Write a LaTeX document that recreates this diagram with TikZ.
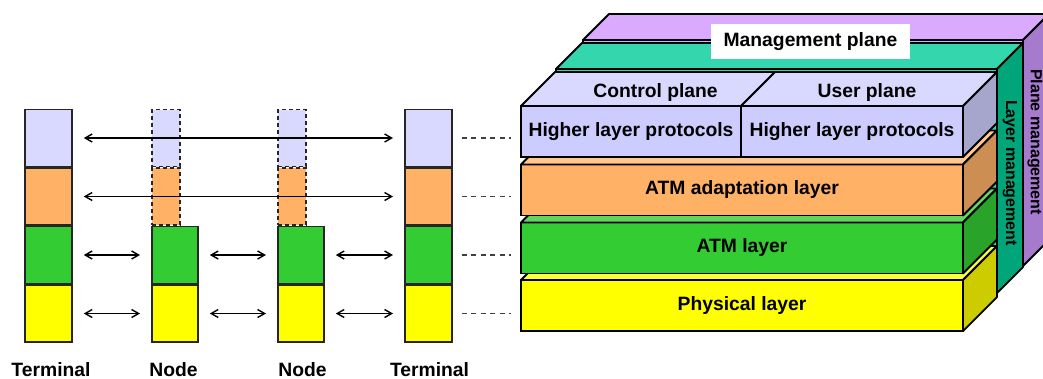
\documentclass[tikz,border=0pt]{standalone}
\usepackage{fontspec}
\setmainfont{Liberation Sans}
\usetikzlibrary{arrows.meta, positioning}
\definecolor{hlfill}{RGB}{217,217,255}
\definecolor{hlfront}{RGB}{204,204,255}
\definecolor{hltop}{RGB}{217,217,255}
\definecolor{hlside}{RGB}{166,166,204}
\definecolor{aalfill}{RGB}{255,178,102}
\definecolor{aaltop}{RGB}{255,199,140}
\definecolor{aalside}{RGB}{204,142,82}
\definecolor{atmfill}{RGB}{51,204,51}
\definecolor{atmtop}{RGB}{96,214,96}
\definecolor{atmside}{RGB}{41,163,41}
\definecolor{phyfill}{RGB}{255,255,0}
\definecolor{phytop}{RGB}{255,255,64}
\definecolor{physide}{RGB}{204,204,0}
\definecolor{lmtop}{RGB}{51,214,173}
\definecolor{lmside}{RGB}{0,166,122}
\definecolor{pmtop}{RGB}{217,170,255}
\definecolor{pmside}{RGB}{166,122,204}
\newcommand*{\lay}{34}
\newcommand*{\slb}{26}
\tikzstyle{cell} = [draw=black!85, line width=1.8pt, minimum width=47pt, minimum height=57pt, inner sep=0pt, anchor=west]
\tikzstyle{ghost} = [cell, minimum width=28pt, dash pattern=on 4pt off 3pt]
\tikzstyle{stratum} = [draw, line width=1.8pt, minimum width=442pt, minimum height=51pt, inner sep=0pt, outer sep=0pt, font=\bfseries\fontsize{19.3}{23}\selectfont]
\tikzstyle{slab} = [draw, line width=1.8pt, inner sep=0pt, outer sep=0pt]
\tikzstyle{face} = [draw, line width=1.8pt, line join=round]
\tikzstyle{boxtext} = [font=\bfseries\fontsize{19.3}{23}\selectfont]
\tikzstyle{sidetext} = [font=\bfseries\fontsize{16}{19}\selectfont, rotate=-90]
\tikzstyle{duplex} = [{Straight Barb[length=7pt,width=8pt]}-{Straight Barb[length=7pt,width=8pt]}, line width=1.4pt, shorten <=11pt, shorten >=11pt]
\tikzstyle{trace} = [draw=black!75, line width=1.7pt, dash pattern=on 5pt off 4.5pt, shorten <=9pt, shorten >=10pt]

\begin{document}
\begin{tikzpicture}[x=1pt, y=-1pt]
    \useasboundingbox (0,0) rectangle (1043,378);

    % Stacks on the left.
    \foreach \n/\x in {term a/24, term b/404} {%
        \foreach \i/\y/\c in {1/138/hlfill, 2/196.5/aalfill, 3/255/atmfill, 4/313.5/phyfill} {%
            \node (\n\i) [cell, fill=\c] at (\x,\y) {};
        }
    }
    \foreach \n/\x in {node a/151, node b/277} {%
        \node (\n1) [ghost, fill=hlfill] at (\x,138) {};
        \node (\n2) [ghost, fill=aalfill] at (\x,196.5) {};
        \node (\n3) [cell, minimum width=46pt, fill=atmfill] at (\x,255) {};
        \node (\n4) [cell, minimum width=46pt, fill=phyfill] at (\x,313.5) {};
    }

    \node (cap term a) [boxtext, anchor=base] at (51,376) {Terminal};
    \node (cap node a) [boxtext, anchor=base] at (173.5,376) {Node};
    \node (cap node b) [boxtext, anchor=base] at (302.5,376) {Node};
    \node (cap term b) [boxtext, anchor=base] at (429.5,376) {Terminal};

    % Arrows.
    \foreach \i in {1, 2} {%
        \draw [duplex] (term a\i) -- (term b\i);
    }
    \foreach \i in {3, 4} {%
        \draw [duplex] (term a\i) -- (node a\i);
        \draw [duplex] (node a\i) -- (node b\i);
        \draw [duplex] (node b\i) -- (term b\i);
    }

    % Management planes behind.
    \node (plane mgmt) [slab, fill=pmtop, minimum width=440pt, minimum height=226pt] at (803,153) {};
    \draw [face, fill=pmtop] (plane mgmt.north west) -- ([shift={(\slb,-\slb)}]plane mgmt.north west) -- ([shift={(\slb,-\slb)}]plane mgmt.north east) -- (plane mgmt.north east) -- cycle;
    \draw [face, fill=pmside] (plane mgmt.north east) -- ([shift={(\slb,-\slb)}]plane mgmt.north east) -- ([shift={(\slb,-\slb)}]plane mgmt.south east) -- (plane mgmt.south east) -- cycle;

    \node (layer mgmt) [slab, fill=lmtop, minimum width=441pt, minimum height=224pt] at (776.5,181) {};
    \draw [face, fill=lmtop] (layer mgmt.north west) -- ([shift={(\slb,-\slb)}]layer mgmt.north west) -- ([shift={(\slb,-\slb)}]layer mgmt.north east) -- (layer mgmt.north east) -- cycle;
    \draw [face, fill=lmside] (layer mgmt.north east) -- ([shift={(\slb,-\slb)}]layer mgmt.north east) -- ([shift={(\slb,-\slb)}]layer mgmt.south east) -- (layer mgmt.south east) -- cycle;

    \node (mgmt) [boxtext, fill=white, minimum width=199pt, minimum height=35pt, inner sep=0pt] at (810.5,41.5) {Management plane};
    \node (lm text) [sidetext] at (1010,173) {Layer management};
    \node (pm text) [sidetext] at (1035,142) {Plane management};

    % Layers, bottom to top.
    \foreach \l/\y/\f/\t/\s/\txt in {phys/305.5/phyfill/phytop/physide/Physical layer, atm/248/atmfill/atmtop/atmside/ATM layer, aal/190/aalfill/aaltop/aalside/ATM adaptation layer} {%
        \node (\l) [stratum, fill=\f] at (742,\y) {\txt};
        \draw [face, fill=\t] (\l.north west) -- ([shift={(\lay,-\lay)}]\l.north west) -- ([shift={(\lay,-\lay)}]\l.north east) -- (\l.north east) -- cycle;
        \draw [face, fill=\s] (\l.north east) -- ([shift={(\lay,-\lay)}]\l.north east) -- ([shift={(\lay,-\lay)}]\l.south east) -- (\l.south east) -- cycle;
    }

    \node (hlp a) [stratum, fill=hlfront, minimum width=220pt] at (631,131.5) {Higher layer protocols};
    \node (hlp b) [stratum, fill=hlfront, minimum width=222pt] at (852,131.5) {Higher layer protocols};
    \foreach \l in {hlp a, hlp b} {%
        \draw [face, fill=hltop] (\l.north west) -- ([shift={(\lay,-\lay)}]\l.north west) -- ([shift={(\lay,-\lay)}]\l.north east) -- (\l.north east) -- cycle;
    }
    \draw [face, fill=hlside] (hlp b.north east) -- ([shift={(\lay,-\lay)}]hlp b.north east) -- ([shift={(\lay,-\lay)}]hlp b.south east) -- (hlp b.south east) -- cycle;
    \node (ctrl) [boxtext, anchor=base] at (655.5,97) {Control plane};
    \node (user) [boxtext, anchor=base] at (867,97) {User plane};

    % Links to the model.
    \foreach \i/\l in {1/hlp a, 2/aal, 3/atm, 4/phys} {%
        \draw [trace] (term b\i) -- (term b\i -| \l.west);
    }
\end{tikzpicture}
\end{document}
